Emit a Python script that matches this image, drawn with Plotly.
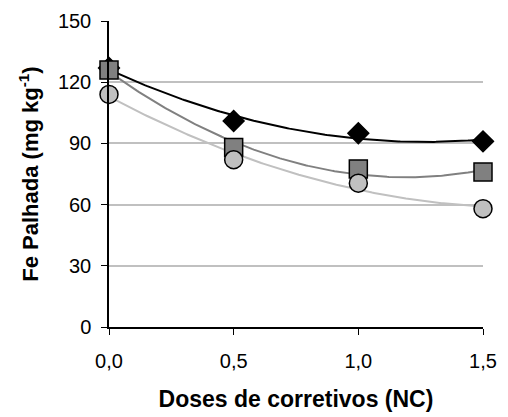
import numpy as np
import plotly.graph_objects as go

doses = [0.0, 0.5, 1.0, 1.5]
fe_diamond = [127, 101, 95, 91]
fe_square = [126, 88, 77.5, 76]
fe_circle = [114, 82, 70.5, 58]
y_ticks = [0, 30, 60, 90, 120, 150]
x_ticks = [0.0, 0.5, 1.0, 1.5]

series = [
    (fe_diamond, "diamond", "#000000", "#000000", 16),
    (fe_square, "square", "#808080", "#808080", 18),
    (fe_circle, "circle", "#c0c0c0", "#c0c0c0", 18),
]

fig = go.Figure()
xs = np.linspace(0, 1.5, 200)
for vals, sym, fill, lc, ms in series:
    coef = np.polyfit(doses, vals, 2)
    fig.add_trace(go.Scatter(x=xs, y=np.polyval(coef, xs), mode="lines",
                             line=dict(color=lc, width=2), showlegend=False,
                             hoverinfo="skip"))
for vals, sym, fill, lc, ms in series:
    fig.add_trace(go.Scatter(x=doses, y=vals, mode="markers", showlegend=False,
                             cliponaxis=False,
                             marker=dict(symbol=sym, size=ms, color=fill,
                                         line=dict(color="#000000", width=1.5))))

# page body has an 8px default margin; figure sized to fit the window
fig.update_layout(
    width=500, height=409,
    margin=dict(l=101, r=25, t=13, b=90),
    paper_bgcolor="white", plot_bgcolor="white",
    separators=", ",
    font=dict(family="Liberation Sans, Arial, sans-serif", size=20, color="black"),
)
fig.update_xaxes(range=[0, 1.5], tickvals=x_ticks, tickformat=".1f",
                 automargin=False,
                 showgrid=False, zeroline=False, showline=True, linecolor="black",
                 linewidth=1.5, ticks="outside", ticklen=6, tickcolor="black",
                 ticklabelstandoff=9,
                 title=dict(text="<b>Doses de corretivos (NC)</b>",
                            font=dict(size=23), standoff=20))
fig.update_yaxes(range=[0, 150], tickvals=y_ticks, showgrid=True,
                 automargin=False,
                 gridcolor="#c0c0c0", gridwidth=2, zeroline=False,
                 showline=True, linecolor="black", linewidth=1.5,
                 ticks="outside", ticklen=6, tickcolor="black",
                 ticklabelstandoff=6,
                 title=dict(text="<b>Fe Palhada (mg kg<sup>-1</sup>)</b>",
                            font=dict(size=22), standoff=13))

fig.write_html("out.html")
